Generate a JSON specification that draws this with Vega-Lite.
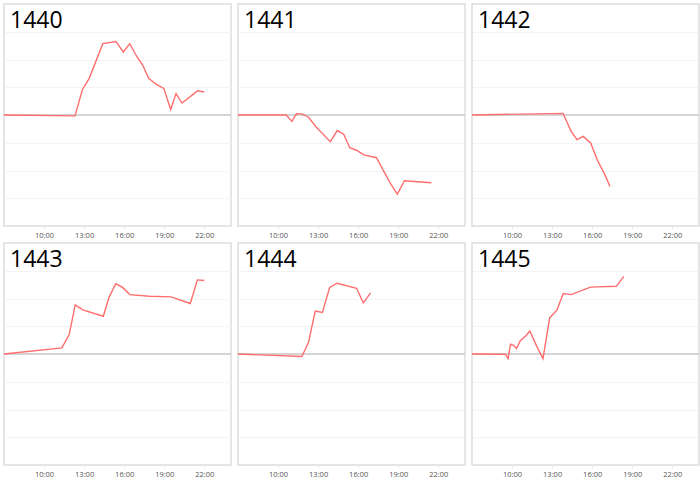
{
  "$schema": "https://vega.github.io/schema/vega-lite/v6.json",
  "padding": {"left": 0, "top": 3, "right": 0, "bottom": 0},
  "bounds": "flush",
  "spacing": {"row": 17, "column": 7},
  "columns": 3,
  "data": {"values": [
    {"code": "1440", "t": "2024-01-02 07:00", "v": 0},
    {"code": "1440", "t": "2024-01-02 12:19", "v": -0.03},
    {"code": "1440", "t": "2024-01-02 12:52", "v": 0.91},
    {"code": "1440", "t": "2024-01-02 13:23", "v": 1.32},
    {"code": "1440", "t": "2024-01-02 14:24", "v": 2.57},
    {"code": "1440", "t": "2024-01-02 15:23", "v": 2.65},
    {"code": "1440", "t": "2024-01-02 15:56", "v": 2.27},
    {"code": "1440", "t": "2024-01-02 16:25", "v": 2.57},
    {"code": "1440", "t": "2024-01-02 16:58", "v": 2.09},
    {"code": "1440", "t": "2024-01-02 17:23", "v": 1.8},
    {"code": "1440", "t": "2024-01-02 17:50", "v": 1.32},
    {"code": "1440", "t": "2024-01-02 18:23", "v": 1.11},
    {"code": "1440", "t": "2024-01-02 18:58", "v": 0.96},
    {"code": "1440", "t": "2024-01-02 19:29", "v": 0.2},
    {"code": "1440", "t": "2024-01-02 19:53", "v": 0.77},
    {"code": "1440", "t": "2024-01-02 20:20", "v": 0.43},
    {"code": "1440", "t": "2024-01-02 21:30", "v": 0.87},
    {"code": "1440", "t": "2024-01-02 22:00", "v": 0.83},

    {"code": "1441", "t": "2024-01-02 07:00", "v": 0},
    {"code": "1441", "t": "2024-01-02 10:37", "v": 0},
    {"code": "1441", "t": "2024-01-02 11:02", "v": -0.23},
    {"code": "1441", "t": "2024-01-02 11:23", "v": 0.05},
    {"code": "1441", "t": "2024-01-02 11:47", "v": 0.04},
    {"code": "1441", "t": "2024-01-02 12:17", "v": -0.08},
    {"code": "1441", "t": "2024-01-02 12:52", "v": -0.44},
    {"code": "1441", "t": "2024-01-02 13:55", "v": -0.96},
    {"code": "1441", "t": "2024-01-02 14:26", "v": -0.56},
    {"code": "1441", "t": "2024-01-02 14:55", "v": -0.69},
    {"code": "1441", "t": "2024-01-02 15:22", "v": -1.18},
    {"code": "1441", "t": "2024-01-02 15:52", "v": -1.27},
    {"code": "1441", "t": "2024-01-02 16:26", "v": -1.44},
    {"code": "1441", "t": "2024-01-02 17:22", "v": -1.54},
    {"code": "1441", "t": "2024-01-02 18:22", "v": -2.43},
    {"code": "1441", "t": "2024-01-02 18:56", "v": -2.85},
    {"code": "1441", "t": "2024-01-02 19:28", "v": -2.37},
    {"code": "1441", "t": "2024-01-02 21:29", "v": -2.44},

    {"code": "1442", "t": "2024-01-02 07:00", "v": 0},
    {"code": "1442", "t": "2024-01-02 13:49", "v": 0.06},
    {"code": "1442", "t": "2024-01-02 14:26", "v": -0.6},
    {"code": "1442", "t": "2024-01-02 14:52", "v": -0.89},
    {"code": "1442", "t": "2024-01-02 15:20", "v": -0.77},
    {"code": "1442", "t": "2024-01-02 15:53", "v": -1.01},
    {"code": "1442", "t": "2024-01-02 16:23", "v": -1.62},
    {"code": "1442", "t": "2024-01-02 16:56", "v": -2.13},
    {"code": "1442", "t": "2024-01-02 17:20", "v": -2.58},

    {"code": "1443", "t": "2024-01-02 07:00", "v": 0},
    {"code": "1443", "t": "2024-01-02 11:20", "v": 0.22},
    {"code": "1443", "t": "2024-01-02 11:53", "v": 0.7},
    {"code": "1443", "t": "2024-01-02 12:20", "v": 1.77},
    {"code": "1443", "t": "2024-01-02 12:54", "v": 1.59},
    {"code": "1443", "t": "2024-01-02 14:26", "v": 1.36},
    {"code": "1443", "t": "2024-01-02 14:53", "v": 2.06},
    {"code": "1443", "t": "2024-01-02 15:22", "v": 2.53},
    {"code": "1443", "t": "2024-01-02 15:53", "v": 2.4},
    {"code": "1443", "t": "2024-01-02 16:25", "v": 2.14},
    {"code": "1443", "t": "2024-01-02 17:53", "v": 2.08},
    {"code": "1443", "t": "2024-01-02 19:31", "v": 2.06},
    {"code": "1443", "t": "2024-01-02 20:57", "v": 1.82},
    {"code": "1443", "t": "2024-01-02 21:29", "v": 2.67},
    {"code": "1443", "t": "2024-01-02 22:00", "v": 2.65},

    {"code": "1444", "t": "2024-01-02 07:00", "v": 0},
    {"code": "1444", "t": "2024-01-02 11:47", "v": -0.09},
    {"code": "1444", "t": "2024-01-02 12:17", "v": 0.42},
    {"code": "1444", "t": "2024-01-02 12:47", "v": 1.55},
    {"code": "1444", "t": "2024-01-02 13:19", "v": 1.5},
    {"code": "1444", "t": "2024-01-02 13:52", "v": 2.4},
    {"code": "1444", "t": "2024-01-02 14:25", "v": 2.55},
    {"code": "1444", "t": "2024-01-02 15:53", "v": 2.37},
    {"code": "1444", "t": "2024-01-02 16:23", "v": 1.84},
    {"code": "1444", "t": "2024-01-02 16:56", "v": 2.2},

    {"code": "1445", "t": "2024-01-02 07:00", "v": 0},
    {"code": "1445", "t": "2024-01-02 09:31", "v": -0.01},
    {"code": "1445", "t": "2024-01-02 09:42", "v": -0.17},
    {"code": "1445", "t": "2024-01-02 09:53", "v": 0.35},
    {"code": "1445", "t": "2024-01-02 10:07", "v": 0.31},
    {"code": "1445", "t": "2024-01-02 10:20", "v": 0.2},
    {"code": "1445", "t": "2024-01-02 10:37", "v": 0.48},
    {"code": "1445", "t": "2024-01-02 11:01", "v": 0.65},
    {"code": "1445", "t": "2024-01-02 11:20", "v": 0.83},
    {"code": "1445", "t": "2024-01-02 11:49", "v": 0.31},
    {"code": "1445", "t": "2024-01-02 12:19", "v": -0.17},
    {"code": "1445", "t": "2024-01-02 12:49", "v": 1.3},
    {"code": "1445", "t": "2024-01-02 13:22", "v": 1.59},
    {"code": "1445", "t": "2024-01-02 13:50", "v": 2.18},
    {"code": "1445", "t": "2024-01-02 14:26", "v": 2.14},
    {"code": "1445", "t": "2024-01-02 15:49", "v": 2.4},
    {"code": "1445", "t": "2024-01-02 16:19", "v": 2.42},
    {"code": "1445", "t": "2024-01-02 17:49", "v": 2.44},
    {"code": "1445", "t": "2024-01-02 18:22", "v": 2.8}
  ]},
  "concat": [
    {"transform": [{"filter": "datum.code == '1440'"}], "width": 227, "height": 222, "layer": [
      {"transform": [{"aggregate": [{"op": "count", "as": "n"}], "groupby": ["code"]}], "mark": {"type": "rule", "color": "#c6c6c6", "strokeWidth": 1.5}, "encoding": {"y": {"datum": 0, "type": "quantitative"}}},
      {"mark": {"type": "line", "color": "#ff6e6e", "strokeWidth": 1.4}, "encoding": {
        "x": {"field": "t", "type": "temporal", "scale": {"domain": [{"year": 2024, "month": 1, "date": 2, "hours": 7}, {"year": 2024, "month": 1, "date": 3, "hours": 0}]}, "axis": {"values": [{"year": 2024, "month": 1, "date": 2, "hours": 10}, {"year": 2024, "month": 1, "date": 2, "hours": 13}, {"year": 2024, "month": 1, "date": 2, "hours": 16}, {"year": 2024, "month": 1, "date": 2, "hours": 19}, {"year": 2024, "month": 1, "date": 2, "hours": 22}]}},
        "y": {"field": "v", "type": "quantitative", "scale": {"domain": [-4, 4], "nice": false, "zero": false}, "axis": {"values": [-3, -2, -1, 1, 2, 3]}}}},
      {"transform": [{"aggregate": [{"op": "count", "as": "n"}], "groupby": ["code"]}], "mark": {"type": "text", "align": "left", "baseline": "alphabetic", "dx": 6, "dy": 24, "fontSize": 23, "font": "Open Sans", "color": "#000000"}, "encoding": {"x": {"datum": {"year": 2024, "month": 1, "date": 2, "hours": 7}, "type": "temporal"}, "y": {"datum": 4, "type": "quantitative"}, "text": {"field": "code", "type": "nominal"}}}
    ]},
    {"transform": [{"filter": "datum.code == '1441'"}], "width": 227, "height": 222, "layer": [
      {"transform": [{"aggregate": [{"op": "count", "as": "n"}], "groupby": ["code"]}], "mark": {"type": "rule", "color": "#c6c6c6", "strokeWidth": 1.5}, "encoding": {"y": {"datum": 0, "type": "quantitative"}}},
      {"mark": {"type": "line", "color": "#ff6e6e", "strokeWidth": 1.4}, "encoding": {
        "x": {"field": "t", "type": "temporal", "scale": {"domain": [{"year": 2024, "month": 1, "date": 2, "hours": 7}, {"year": 2024, "month": 1, "date": 3, "hours": 0}]}, "axis": {"values": [{"year": 2024, "month": 1, "date": 2, "hours": 10}, {"year": 2024, "month": 1, "date": 2, "hours": 13}, {"year": 2024, "month": 1, "date": 2, "hours": 16}, {"year": 2024, "month": 1, "date": 2, "hours": 19}, {"year": 2024, "month": 1, "date": 2, "hours": 22}]}},
        "y": {"field": "v", "type": "quantitative", "scale": {"domain": [-4, 4], "nice": false, "zero": false}, "axis": {"values": [-3, -2, -1, 1, 2, 3]}}}},
      {"transform": [{"aggregate": [{"op": "count", "as": "n"}], "groupby": ["code"]}], "mark": {"type": "text", "align": "left", "baseline": "alphabetic", "dx": 6, "dy": 24, "fontSize": 23, "font": "Open Sans", "color": "#000000"}, "encoding": {"x": {"datum": {"year": 2024, "month": 1, "date": 2, "hours": 7}, "type": "temporal"}, "y": {"datum": 4, "type": "quantitative"}, "text": {"field": "code", "type": "nominal"}}}
    ]},
    {"transform": [{"filter": "datum.code == '1442'"}], "width": 227, "height": 222, "layer": [
      {"transform": [{"aggregate": [{"op": "count", "as": "n"}], "groupby": ["code"]}], "mark": {"type": "rule", "color": "#c6c6c6", "strokeWidth": 1.5}, "encoding": {"y": {"datum": 0, "type": "quantitative"}}},
      {"mark": {"type": "line", "color": "#ff6e6e", "strokeWidth": 1.4}, "encoding": {
        "x": {"field": "t", "type": "temporal", "scale": {"domain": [{"year": 2024, "month": 1, "date": 2, "hours": 7}, {"year": 2024, "month": 1, "date": 3, "hours": 0}]}, "axis": {"values": [{"year": 2024, "month": 1, "date": 2, "hours": 10}, {"year": 2024, "month": 1, "date": 2, "hours": 13}, {"year": 2024, "month": 1, "date": 2, "hours": 16}, {"year": 2024, "month": 1, "date": 2, "hours": 19}, {"year": 2024, "month": 1, "date": 2, "hours": 22}]}},
        "y": {"field": "v", "type": "quantitative", "scale": {"domain": [-4, 4], "nice": false, "zero": false}, "axis": {"values": [-3, -2, -1, 1, 2, 3]}}}},
      {"transform": [{"aggregate": [{"op": "count", "as": "n"}], "groupby": ["code"]}], "mark": {"type": "text", "align": "left", "baseline": "alphabetic", "dx": 6, "dy": 24, "fontSize": 23, "font": "Open Sans", "color": "#000000"}, "encoding": {"x": {"datum": {"year": 2024, "month": 1, "date": 2, "hours": 7}, "type": "temporal"}, "y": {"datum": 4, "type": "quantitative"}, "text": {"field": "code", "type": "nominal"}}}
    ]},
    {"transform": [{"filter": "datum.code == '1443'"}], "width": 227, "height": 222, "layer": [
      {"transform": [{"aggregate": [{"op": "count", "as": "n"}], "groupby": ["code"]}], "mark": {"type": "rule", "color": "#c6c6c6", "strokeWidth": 1.5}, "encoding": {"y": {"datum": 0, "type": "quantitative"}}},
      {"mark": {"type": "line", "color": "#ff6e6e", "strokeWidth": 1.4}, "encoding": {
        "x": {"field": "t", "type": "temporal", "scale": {"domain": [{"year": 2024, "month": 1, "date": 2, "hours": 7}, {"year": 2024, "month": 1, "date": 3, "hours": 0}]}, "axis": {"values": [{"year": 2024, "month": 1, "date": 2, "hours": 10}, {"year": 2024, "month": 1, "date": 2, "hours": 13}, {"year": 2024, "month": 1, "date": 2, "hours": 16}, {"year": 2024, "month": 1, "date": 2, "hours": 19}, {"year": 2024, "month": 1, "date": 2, "hours": 22}]}},
        "y": {"field": "v", "type": "quantitative", "scale": {"domain": [-4, 4], "nice": false, "zero": false}, "axis": {"values": [-3, -2, -1, 1, 2, 3]}}}},
      {"transform": [{"aggregate": [{"op": "count", "as": "n"}], "groupby": ["code"]}], "mark": {"type": "text", "align": "left", "baseline": "alphabetic", "dx": 6, "dy": 24, "fontSize": 23, "font": "Open Sans", "color": "#000000"}, "encoding": {"x": {"datum": {"year": 2024, "month": 1, "date": 2, "hours": 7}, "type": "temporal"}, "y": {"datum": 4, "type": "quantitative"}, "text": {"field": "code", "type": "nominal"}}}
    ]},
    {"transform": [{"filter": "datum.code == '1444'"}], "width": 227, "height": 222, "layer": [
      {"transform": [{"aggregate": [{"op": "count", "as": "n"}], "groupby": ["code"]}], "mark": {"type": "rule", "color": "#c6c6c6", "strokeWidth": 1.5}, "encoding": {"y": {"datum": 0, "type": "quantitative"}}},
      {"mark": {"type": "line", "color": "#ff6e6e", "strokeWidth": 1.4}, "encoding": {
        "x": {"field": "t", "type": "temporal", "scale": {"domain": [{"year": 2024, "month": 1, "date": 2, "hours": 7}, {"year": 2024, "month": 1, "date": 3, "hours": 0}]}, "axis": {"values": [{"year": 2024, "month": 1, "date": 2, "hours": 10}, {"year": 2024, "month": 1, "date": 2, "hours": 13}, {"year": 2024, "month": 1, "date": 2, "hours": 16}, {"year": 2024, "month": 1, "date": 2, "hours": 19}, {"year": 2024, "month": 1, "date": 2, "hours": 22}]}},
        "y": {"field": "v", "type": "quantitative", "scale": {"domain": [-4, 4], "nice": false, "zero": false}, "axis": {"values": [-3, -2, -1, 1, 2, 3]}}}},
      {"transform": [{"aggregate": [{"op": "count", "as": "n"}], "groupby": ["code"]}], "mark": {"type": "text", "align": "left", "baseline": "alphabetic", "dx": 6, "dy": 24, "fontSize": 23, "font": "Open Sans", "color": "#000000"}, "encoding": {"x": {"datum": {"year": 2024, "month": 1, "date": 2, "hours": 7}, "type": "temporal"}, "y": {"datum": 4, "type": "quantitative"}, "text": {"field": "code", "type": "nominal"}}}
    ]},
    {"transform": [{"filter": "datum.code == '1445'"}], "width": 227, "height": 222, "layer": [
      {"transform": [{"aggregate": [{"op": "count", "as": "n"}], "groupby": ["code"]}], "mark": {"type": "rule", "color": "#c6c6c6", "strokeWidth": 1.5}, "encoding": {"y": {"datum": 0, "type": "quantitative"}}},
      {"mark": {"type": "line", "color": "#ff6e6e", "strokeWidth": 1.4}, "encoding": {
        "x": {"field": "t", "type": "temporal", "scale": {"domain": [{"year": 2024, "month": 1, "date": 2, "hours": 7}, {"year": 2024, "month": 1, "date": 3, "hours": 0}]}, "axis": {"values": [{"year": 2024, "month": 1, "date": 2, "hours": 10}, {"year": 2024, "month": 1, "date": 2, "hours": 13}, {"year": 2024, "month": 1, "date": 2, "hours": 16}, {"year": 2024, "month": 1, "date": 2, "hours": 19}, {"year": 2024, "month": 1, "date": 2, "hours": 22}]}},
        "y": {"field": "v", "type": "quantitative", "scale": {"domain": [-4, 4], "nice": false, "zero": false}, "axis": {"values": [-3, -2, -1, 1, 2, 3]}}}},
      {"transform": [{"aggregate": [{"op": "count", "as": "n"}], "groupby": ["code"]}], "mark": {"type": "text", "align": "left", "baseline": "alphabetic", "dx": 6, "dy": 24, "fontSize": 23, "font": "Open Sans", "color": "#000000"}, "encoding": {"x": {"datum": {"year": 2024, "month": 1, "date": 2, "hours": 7}, "type": "temporal"}, "y": {"datum": 4, "type": "quantitative"}, "text": {"field": "code", "type": "nominal"}}}
    ]}
  ],
  "config": {
    "view": {"stroke": "#dddddd", "strokeWidth": 1.5},
    "background": "#ffffff",
    "axisX": {"title": null, "format": "%H:%M", "grid": false, "domain": false, "ticks": true, "tickSize": 3, "tickColor": "#e4e4e4", "labelFont": "Open Sans", "labelFontSize": 7.5, "labelColor": "#555555", "labelPadding": 2},
    "axisY": {"title": null, "labels": false, "ticks": false, "domain": false, "grid": true, "gridColor": "#f3f3f3", "gridWidth": 1}
  }
}
